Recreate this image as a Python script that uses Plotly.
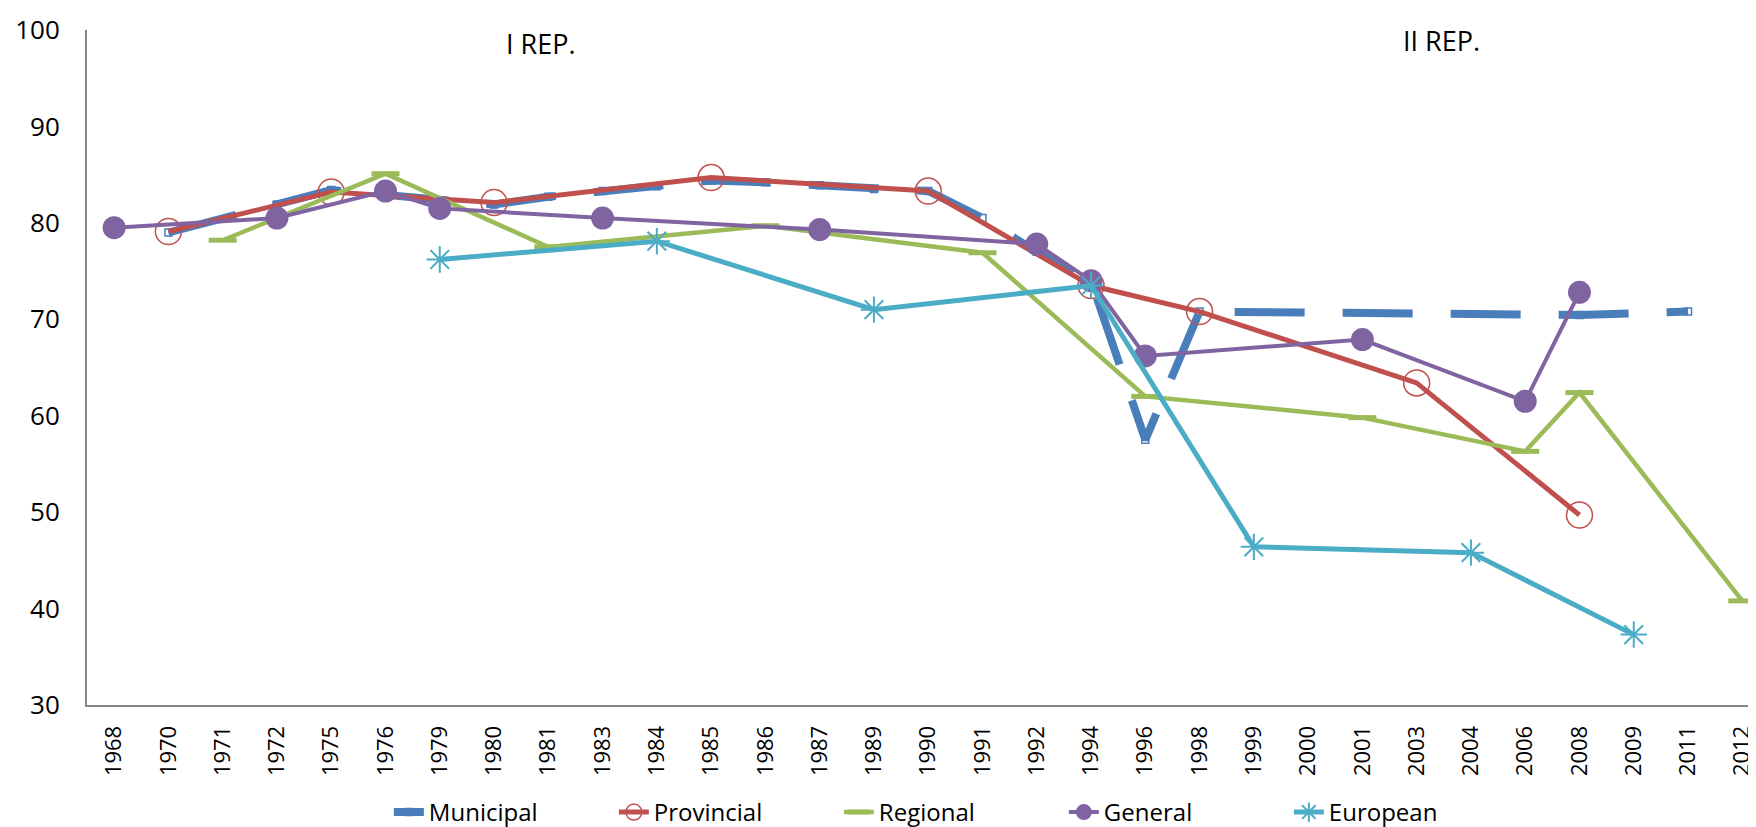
import plotly.graph_objects as go

years = ["1968", "1970", "1971", "1972", "1975", "1976", "1979", "1980", "1981", "1983",
         "1984", "1985", "1986", "1987", "1989", "1990", "1991", "1992", "1994", "1996",
         "1998", "1999", "2000", "2001", "2003", "2004", "2006", "2008", "2009", "2011", "2012"]

municipal = [None, 79.0, None, 81.9, 83.4, 82.9, None, 81.9, 82.7, 83.3,
             83.8, 84.4, 84.2, 83.9, 83.5, 83.3, 80.5, 77.0, 74.0, 57.5,
             70.8, None, None, None, None, None, None, 70.45, None, 70.8, None]
provincial = [None, 79.1, None, None, 83.2, None, None, 82.1, None, None,
              None, 84.7, None, None, None, 83.3, None, None, 73.5, None,
              70.8, None, None, None, 63.4, None, None, 49.7, None, None, None]
regional = [None, None, 78.2, None, None, 85.1, None, None, 77.5, None,
            None, None, 79.7, None, None, None, 76.9, None, None, 62.0,
            None, None, None, 59.8, None, None, 56.3, 62.4, None, None, 40.8]
general = [79.5, None, None, 80.5, None, 83.3, 81.5, None, None, 80.5,
           None, None, None, 79.3, None, None, None, 77.8, 74.0, 66.2,
           None, None, None, 67.9, None, None, 61.5, 72.8, None, None, None]
european = [None, None, None, None, None, None, 76.2, None, None, None,
            78.1, None, None, None, 71.0, None, None, None, 73.5, None,
            None, 46.4, None, None, None, 45.8, None, None, 37.3, None, None]

FONT = "Liberation Sans Narrow, Open Sans, sans-serif"

fig = go.Figure()

fig.add_trace(go.Scatter(
    x=years, y=municipal, name="Municipal", mode="lines+markers", connectgaps=True,
    line=dict(color="#4A7EBB", width=8, dash="70px,38px"),
    marker=dict(symbol="square-open", size=7, color="#4A7EBB", line=dict(width=1.5)),
))
fig.add_trace(go.Scatter(
    x=years, y=provincial, name="Provincial", mode="lines+markers", connectgaps=True,
    line=dict(color="#C0504D", width=5),
    marker=dict(symbol="circle-open", size=26, color="#C0504D", line=dict(width=1.5)),
))
fig.add_trace(go.Scatter(
    x=years, y=regional, name="Regional", mode="lines+markers", connectgaps=True,
    line=dict(color="#9BBB59", width=4.5),
    marker=dict(symbol="line-ew-open", size=20, color="#9BBB59", line=dict(width=5, color="#9BBB59")),
))
fig.add_trace(go.Scatter(
    x=years, y=general, name="General", mode="lines+markers", connectgaps=True,
    line=dict(color="#8064A2", width=4),
    marker=dict(symbol="circle", size=23, color="#8064A2"),
))
fig.add_trace(go.Scatter(
    x=years, y=european, name="European", mode="lines+markers", connectgaps=True,
    line=dict(color="#4BACC6", width=5),
    marker=dict(symbol="asterisk-open", size=22, color="#4BACC6", line=dict(width=2, color="#4BACC6")),
))

# boundary between the two republics
fig.add_shape(type="line", xref="x", yref="paper", x0="1994", x1="1994", y0=0, y1=1.018,
              line=dict(color="black", width=1.5, dash="18px,5px,2px,5px,2px,5px"), layer="above")

fig.add_annotation(x=7.86, y=98.6, text="I REP.", showarrow=False,
                   font=dict(family=FONT, size=27, color="black"))
fig.add_annotation(x=24.45, y=98.9, text="II REP.", showarrow=False,
                   font=dict(family=FONT, size=27, color="black"))

fig.update_layout(
    width=1756, height=827,
    margin=dict(l=79, r=0, t=22, b=123),
    plot_bgcolor="white", paper_bgcolor="white",
    font=dict(family=FONT, size=26, color="black"),
    showlegend=True,
    legend=dict(orientation="h", x=0.18, xanchor="left", y=-0.16, yanchor="middle",
                font=dict(family=FONT, size=24), entrywidth=180, entrywidthmode="pixels"),
    xaxis=dict(type="category", range=[-0.5, 30.4], showgrid=False, showline=True,
               linecolor="#868686", linewidth=2, ticks="", tickangle=-90,
               tickfont=dict(family=FONT, size=22), ticklabelstandoff=10, zeroline=False),
    yaxis=dict(range=[30, 100], dtick=10, showgrid=False, showline=True,
               linecolor="#868686", linewidth=2, ticks="", zeroline=False,
               tickfont=dict(family=FONT, size=26), ticklabelstandoff=20),
)

fig.write_html("out.html")
